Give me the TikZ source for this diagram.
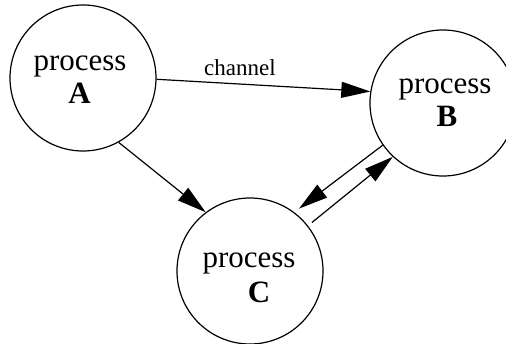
\documentclass[tikz,border=0pt]{standalone}
\usepackage{fontspec}
\setmainfont{Liberation Serif}
\usetikzlibrary{arrows.meta,calc}

\tikzset{
  proc/.style={circle, draw, line width=1.2pt, minimum size=146pt, inner sep=0pt},
  word/.style={anchor=base, inner sep=0pt, font=\fontsize{31}{33}\selectfont},
  pname/.style={anchor=base, inner sep=0pt, font=\fontsize{31}{33}\selectfont\bfseries},
  edgelabel/.style={anchor=base, inner sep=0pt, font=\fontsize{23}{25}\selectfont},
  flow/.style={line width=1.2pt, -{Triangle[length=29pt, width=16pt]}},
}

\begin{document}
\begin{tikzpicture}[x=1pt, y=-1pt]
  \useasboundingbox (0,0) rectangle (506,343);

  % the three processes
  \node[proc] (A) at (83,78)  {};
  \node[proc] (B) at (443,103) {};
  \node[proc] (C) at (250,271) {};

  % their captions
  \node[word]  (Aw) at (80,70)   {process};
  \node[pname] (An) at (79.5,103) {A};
  \node[word]  (Bw) at (445,93)  {process};
  \node[pname] (Bn) at (447,126) {B};
  \node[word]  (Cw) at (249,267) {process};
  \node[pname] (Cn) at (259,302) {C};

  % channels between the processes
  \draw[flow] (A.-1) -- (B.171);
  \node[edgelabel] (ch) at (240,75) {channel};
  \draw[flow] (A.-61.3) -- (C.127.8);
  \draw[flow, shorten >=6pt] (B.215) -- (C.53.7);
  \draw[flow, shorten <=5pt] (C.38.3) -- (B.227.2);
\end{tikzpicture}
\end{document}
